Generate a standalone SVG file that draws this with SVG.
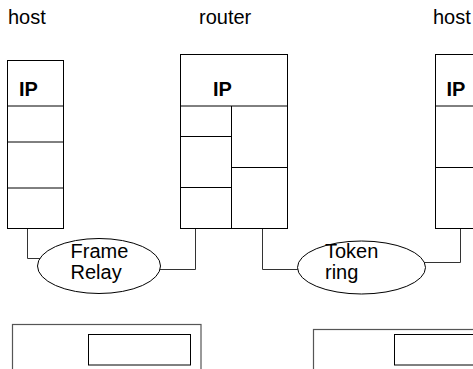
<svg xmlns="http://www.w3.org/2000/svg" width="473" height="369" viewBox="0 0 473 369">
<style>
.box{fill:#fff;stroke:#000;stroke-width:1}
.ln{stroke:#000;stroke-width:1;fill:none}
.con{stroke:#333;stroke-width:1;fill:none}
.t{font-family:"Liberation Sans",Arial,sans-serif;font-size:20px;fill:#000}
.b{font-weight:bold}
.big{fill:#fff;stroke:#555;stroke-width:1.2}
</style>
<rect width="473" height="369" fill="#fff"/>
<g id="connectors">
<polyline class="con" points="27.5,228.5 27.5,258.5 40,258.5"/>
<polyline class="con" points="159,269.5 195.5,269.5 195.5,228.5"/>
<polyline class="con" points="262.5,228.5 262.5,269.5 298,269.5"/>
<polyline class="con" points="424,262.5 460.5,262.5 460.5,228.5"/>
</g>
<g id="host-left">
<text class="t" x="8" y="24">host</text>
<rect class="box" x="7.5" y="60.5" width="56" height="168"/>
<line class="ln" x1="7.5" y1="106" x2="63.5" y2="106"/>
<line class="ln" x1="7.5" y1="142" x2="63.5" y2="142"/>
<line class="ln" x1="7.5" y1="188" x2="63.5" y2="188"/>
<text class="t b" x="19" y="96">IP</text>
</g>
<g id="router">
<text class="t" x="199" y="24">router</text>
<rect class="box" x="180.5" y="54.5" width="107" height="174"/>
<line class="ln" x1="180.5" y1="106" x2="287.5" y2="106"/>
<line class="ln" x1="231.5" y1="106" x2="231.5" y2="228.5"/>
<line class="ln" x1="180.5" y1="136.5" x2="231.5" y2="136.5"/>
<line class="ln" x1="180.5" y1="187.5" x2="231.5" y2="187.5"/>
<line class="ln" x1="231.5" y1="167.5" x2="287.5" y2="167.5"/>
<text class="t b" x="213" y="96">IP</text>
</g>
<g id="host-right">
<text class="t" x="433" y="24">host</text>
<rect class="box" x="435.5" y="54.5" width="60" height="174"/>
<line class="ln" x1="435.5" y1="106" x2="473" y2="106"/>
<line class="ln" x1="435.5" y1="167.5" x2="473" y2="167.5"/>
<text class="t b" x="446.5" y="96">IP</text>
</g>
<g id="frame-relay">
<ellipse class="box" cx="99" cy="266" rx="61.5" ry="27.5"/>
<text class="t" x="70.5" y="258">Frame</text>
<text class="t" x="70.5" y="279">Relay</text>
</g>
<g id="token-ring">
<ellipse class="box" cx="361.5" cy="267.5" rx="64" ry="26.5"/>
<text class="t" x="325" y="258">Token</text>
<text class="t" x="325" y="279">ring</text>
</g>
<g id="bottom-left">
<rect class="big" x="12.5" y="324.5" width="188.5" height="60"/>
<rect class="box" x="88.5" y="334.5" width="102" height="30.5"/>
</g>
<g id="bottom-right">
<rect class="big" x="313.5" y="329.5" width="180" height="60"/>
<rect class="box" x="394.5" y="334.5" width="100" height="30.5"/>
</g>
</svg>
